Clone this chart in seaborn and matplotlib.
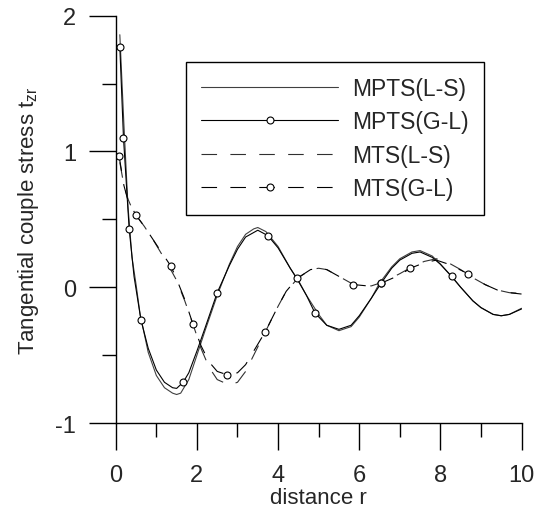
import numpy as np
import matplotlib
matplotlib.use("Agg")
import matplotlib.pyplot as plt
from matplotlib.lines import Line2D
from matplotlib.ticker import MultipleLocator
import seaborn as sns

# curve data
mpts_ls_x = [0.1, 0.2, 0.3, 0.4, 0.5, 0.6, 0.8, 1.0, 1.2, 1.4, 1.5, 1.6, 1.8, 2.0, 2.2, 2.5,
             2.8, 3.0, 3.2, 3.4, 3.5, 3.7, 4.0, 4.3, 4.5, 4.7, 5.0, 5.2, 5.5, 5.8, 6.0, 6.3,
             6.5, 6.8, 7.0, 7.3, 7.5, 7.8, 8.0, 8.3, 8.5, 8.8, 9.0, 9.3, 9.5, 9.7, 10.0]
mpts_ls_y = [1.86, 1.2, 0.6, 0.22, 0.02, -0.2, -0.48, -0.65, -0.74, -0.78, -0.79, -0.78, -0.68,
             -0.5, -0.32, -0.06, 0.17, 0.3, 0.39, 0.43, 0.44, 0.41, 0.3, 0.14, 0.05, -0.06, -0.2,
             -0.28, -0.32, -0.29, -0.22, -0.08, 0.03, 0.15, 0.21, 0.26, 0.27, 0.23, 0.17, 0.07,
             0.0, -0.1, -0.15, -0.2, -0.21, -0.2, -0.155]

mpts_gl_x = [0.1, 0.19, 0.33, 0.45, 0.62, 0.8, 1.0, 1.2, 1.4, 1.5, 1.66, 1.8, 2.0, 2.2, 2.5,
             2.8, 3.0, 3.2, 3.5, 3.75, 4.0, 4.3, 4.47, 4.7, 4.91, 5.2, 5.5, 5.8, 6.0, 6.3, 6.54,
             6.8, 7.0, 7.3, 7.5, 7.8, 8.0, 8.28, 8.5, 8.8, 9.0, 9.3, 9.5, 9.7, 10.0]
mpts_gl_y = [1.77, 1.1, 0.43, 0.08, -0.24, -0.45, -0.61, -0.7, -0.74, -0.745, -0.7, -0.63,
             -0.47, -0.3, -0.04, 0.16, 0.28, 0.37, 0.42, 0.38, 0.29, 0.14, 0.06, -0.06, -0.19,
             -0.28, -0.31, -0.28, -0.21, -0.08, 0.03, 0.14, 0.2, 0.25, 0.26, 0.22, 0.17, 0.08,
             0.0, -0.1, -0.15, -0.2, -0.21, -0.2, -0.16]
mpts_gl_marks = [0.1, 0.19, 0.33, 0.62, 1.66, 2.5, 3.75, 4.91, 6.54, 8.28]

mts_ls_x = [0.1, 0.2, 0.3, 0.4, 0.5, 0.7, 0.9, 1.1, 1.3, 1.5, 1.7, 1.9, 2.1, 2.3, 2.5, 2.8,
            3.0, 3.2, 3.4, 3.7, 4.0, 4.2, 4.5, 4.8, 5.0, 5.2, 5.5, 5.8, 6.0, 6.3, 6.6, 7.0,
            7.3, 7.6, 7.9, 8.2, 8.5, 8.8, 9.1, 9.4, 9.7, 10.0]
mts_ls_y = [0.92, 0.75, 0.65, 0.58, 0.53, 0.45, 0.36, 0.26, 0.16, 0.05, -0.1, -0.27, -0.45,
            -0.59, -0.68, -0.72, -0.7, -0.62, -0.5, -0.32, -0.14, -0.03, 0.07, 0.13, 0.14,
            0.13, 0.08, 0.03, 0.01, 0.01, 0.04, 0.1, 0.15, 0.19, 0.21, 0.18, 0.13, 0.07, 0.02,
            -0.02, -0.04, -0.045]

mts_gl_x = [0.08, 0.2, 0.3, 0.5, 0.7, 0.9, 1.1, 1.36, 1.5, 1.7, 1.9, 2.1, 2.3, 2.5, 2.75,
            3.0, 3.2, 3.4, 3.68, 4.0, 4.2, 4.47, 4.8, 5.0, 5.2, 5.5, 5.85, 6.2, 6.54, 7.0,
            7.26, 7.6, 7.9, 8.2, 8.68, 9.1, 9.4, 9.7, 10.0]
mts_gl_y = [0.97, 0.75, 0.64, 0.53, 0.45, 0.36, 0.27, 0.155, 0.06, -0.09, -0.27, -0.43,
            -0.55, -0.62, -0.645, -0.63, -0.57, -0.47, -0.33, -0.14, -0.03, 0.066, 0.13,
            0.14, 0.13, 0.08, 0.02, 0.01, 0.03, 0.09, 0.14, 0.18, 0.2, 0.17, 0.1, 0.02,
            -0.02, -0.04, -0.05]
mts_gl_marks = [0.08, 0.5, 1.36, 1.9, 2.75, 3.68, 4.47, 5.85, 6.54, 7.26, 8.68]

labels = ["MPTS(L-S)", "MPTS(G-L)", "MTS(L-S)", "MTS(G-L)"]

sns.set_style("ticks")
plt.rcParams["font.family"] = ["Liberation Sans", "DejaVu Sans"]
plt.rcParams["mathtext.fontset"] = "custom"
plt.rcParams["mathtext.rm"] = "Liberation Sans"
plt.rcParams["axes.unicode_minus"] = False

fig = plt.figure(figsize=(5.41, 5.10), dpi=100)
ax = fig.add_axes([0.214, 0.1686, 0.75, 0.7986])

dash = (0, (14, 12))
lw = 0.8
mark_kw = dict(marker="o", markersize=5, markerfacecolor="white",
               markeredgecolor="black", markeredgewidth=0.8)


def mark_idx(xs, marks):
    xs = np.asarray(xs)
    return [int(np.argmin(np.abs(xs - m))) for m in marks]


sns.lineplot(x=mpts_ls_x, y=mpts_ls_y, ax=ax, color="#404040", lw=lw)
sns.lineplot(x=mpts_gl_x, y=mpts_gl_y, ax=ax, color="black", lw=lw,
             markevery=mark_idx(mpts_gl_x, mpts_gl_marks), **mark_kw)
sns.lineplot(x=mts_ls_x, y=mts_ls_y, ax=ax, color="#303030", lw=lw, linestyle=dash)
sns.lineplot(x=mts_gl_x, y=mts_gl_y, ax=ax, color="black", lw=lw, linestyle=dash,
             markevery=mark_idx(mts_gl_x, mts_gl_marks), **mark_kw)

handles = [
    Line2D([], [], color="#404040", lw=lw),
    Line2D([], [], color="black", lw=lw, **mark_kw),
    Line2D([], [], color="#303030", lw=lw, linestyle=dash),
    Line2D([], [], color="black", lw=lw, linestyle=dash, **mark_kw),
]
leg = ax.legend(handles, labels, loc="upper left", bbox_to_anchor=(0.173, 0.886),
                fontsize=16.5, handlelength=6.0, handletextpad=0.6, labelspacing=0.45,
                borderpad=0.65, borderaxespad=0, frameon=True, fancybox=False,
                edgecolor="black", framealpha=1)
leg.get_frame().set_linewidth(1.0)

ax.set_xlim(0, 10)
ax.set_ylim(-1, 2)
ax.xaxis.set_major_locator(MultipleLocator(2))
ax.xaxis.set_minor_locator(MultipleLocator(1))
ax.yaxis.set_major_locator(MultipleLocator(1))
ax.yaxis.set_minor_locator(MultipleLocator(0.5))
ax.tick_params(which="major", direction="out", length=19.5, width=1, pad=9,
               labelsize=17, color="black")
ax.tick_params(axis="x", which="major", pad=10)
ax.tick_params(which="minor", direction="out", length=10, width=1, color="black")
sns.despine(ax=ax)
for s in ["left", "bottom"]:
    ax.spines[s].set_linewidth(1)
    ax.spines[s].set_color("black")

ax.set_xlabel("distance r", fontsize=16, labelpad=1)
ax.set_ylabel(r"Tangential couple stress $\mathregular{t_{zr}}$", fontsize=16, labelpad=10)

fig.savefig("out.png", dpi=100)
